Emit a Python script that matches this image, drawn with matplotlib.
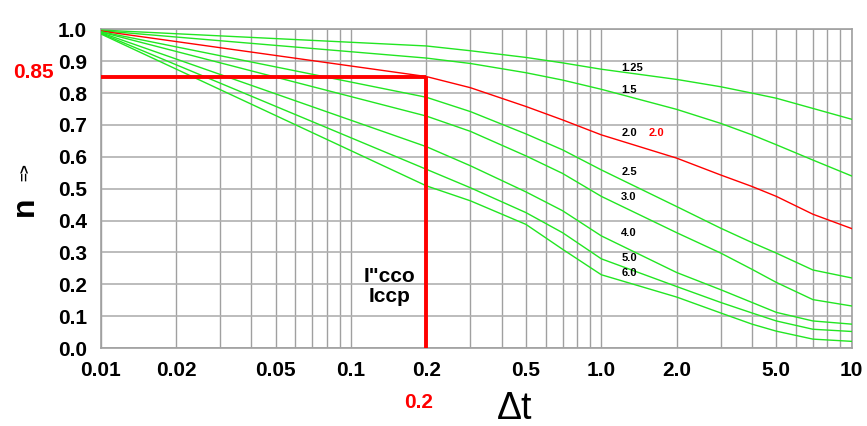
import numpy as np
import matplotlib
matplotlib.use("Agg")
import matplotlib.pyplot as plt
from matplotlib.ticker import FixedLocator, NullFormatter

plt.rcParams['font.family'] = ['Liberation Sans', 'DejaVu Sans']

# readings along the time axis
t = [0.01, 0.2, 0.3, 0.5, 0.7, 1.0, 2.0, 3.0, 4.0, 5.0, 7.0, 10.0]

ratios = ['1.25', '1.5', '2.0', '2.5', '3.0', '4.0', '5.0', '6.0']
n_125 = [0.998, 0.948, 0.933, 0.912, 0.895, 0.875, 0.843, 0.820, 0.800, 0.784, 0.752, 0.718]
n_15 = [0.996, 0.910, 0.893, 0.864, 0.841, 0.812, 0.749, 0.705, 0.669, 0.638, 0.590, 0.540]
n_20 = [0.995, 0.852, 0.817, 0.758, 0.716, 0.669, 0.596, 0.543, 0.507, 0.476, 0.420, 0.375]
n_25 = [0.993, 0.787, 0.742, 0.672, 0.622, 0.559, 0.444, 0.376, 0.331, 0.298, 0.245, 0.220]
n_30 = [0.992, 0.728, 0.680, 0.603, 0.548, 0.476, 0.362, 0.298, 0.247, 0.206, 0.152, 0.132]
n_40 = [0.990, 0.632, 0.572, 0.490, 0.431, 0.352, 0.237, 0.183, 0.143, 0.112, 0.085, 0.075]
n_50 = [0.988, 0.561, 0.503, 0.425, 0.362, 0.280, 0.193, 0.143, 0.110, 0.085, 0.059, 0.052]
n_60 = [0.986, 0.509, 0.462, 0.388, 0.310, 0.230, 0.160, 0.110, 0.075, 0.053, 0.028, 0.021]
curves = [n_125, n_15, n_20, n_25, n_30, n_40, n_50, n_60]

# label positions (y) for the ratio labels
label_y = [0.879, 0.81, 0.675, 0.552, 0.474, 0.361, 0.283, 0.235]

xticks = [0.01, 0.02, 0.05, 0.1, 0.2, 0.5, 1.0, 2.0, 5.0, 10]
xticklabels = ['0.01', '0.02', '0.05', '0.1', '0.2', '0.5', '1.0', '2.0', '5.0', '10']
yticks = [0.0, 0.1, 0.2, 0.3, 0.4, 0.5, 0.6, 0.7, 0.8, 0.9, 1.0]

sel_t = 0.2
sel_n = 0.85

fig = plt.figure(figsize=(8.67, 4.26), dpi=100)
ax = fig.add_axes([0.1161, 0.183, 0.8662, 0.748])
ax.set_xscale('log')
ax.set_xlim(0.01, 10)
ax.set_ylim(0.0, 1.0)

# grid on every log subdivision
minor = [m * 10.0 ** e for e in (-2, -1, 0) for m in range(2, 10)]
ax.xaxis.set_minor_locator(FixedLocator(minor))
ax.xaxis.set_minor_formatter(NullFormatter())
ax.set_xticks(xticks)
ax.set_xticklabels(xticklabels)
ax.set_yticks(yticks)
ax.set_yticklabels(['%.1f' % v for v in yticks])
ax.grid(True, which='both', axis='x', color='#a0a0a0', lw=1.0)
ax.grid(True, which='major', axis='y', color='#b0b0b0', lw=1.2)
ax.set_axisbelow(True)
ax.tick_params(which='both', length=0)
ax.tick_params(axis='x', pad=9)
ax.tick_params(axis='y', pad=10)
for lab in ax.get_xticklabels() + ax.get_yticklabels():
    lab.set_fontsize(15)
    lab.set_fontweight('bold')
for s in ax.spines.values():
    s.set_color('#a0a0a0')
    s.set_linewidth(1.2)

for name, vals in zip(ratios, curves):
    col = '#ff0000' if name == '2.0' else '#22e622'
    ax.plot(t, vals, color=col, lw=1.0, zorder=3)

for name, ly in zip(ratios, label_y):
    ax.text(1.2, ly, name, fontsize=8, fontweight='bold', ha='left', va='center', zorder=4)
ax.text(1.55, label_y[2], '2.0', fontsize=8, fontweight='bold', color='#ff0000',
        ha='left', va='center', zorder=4)

# selected point
ax.plot([0.01, sel_t], [sel_n, sel_n], color='#ff0000', lw=2.8, solid_capstyle='butt', zorder=5)
ax.plot([sel_t, sel_t], [0.0, sel_n], color='#ff0000', lw=2.8, solid_capstyle='butt', zorder=5)
ax.text(0.0065, sel_n + 0.016, '0.85', color='#ff0000', fontsize=15, fontweight='bold',
        ha='right', va='center', clip_on=False)
fig.text(0.483, 0.056, '0.2', color='#ff0000', fontsize=15, fontweight='bold',
         ha='center', va='center')

ax.text(0.181, 0.194, 'I"cco\nIccp', fontsize=15, fontweight='bold', ha='right',
        va='center', multialignment='center', linespacing=1.05)

fig.text(0.594, 0.04, '\u0394t', fontsize=27, ha='center', va='center')
fig.text(0.029, 0.515, 'n', fontsize=23, fontweight='bold', rotation=90, ha='center', va='center')
fig.text(0.030, 0.597, '=>', fontsize=11, fontweight='bold', rotation=90, ha='center', va='center')

fig.savefig('out.png', dpi=100)
